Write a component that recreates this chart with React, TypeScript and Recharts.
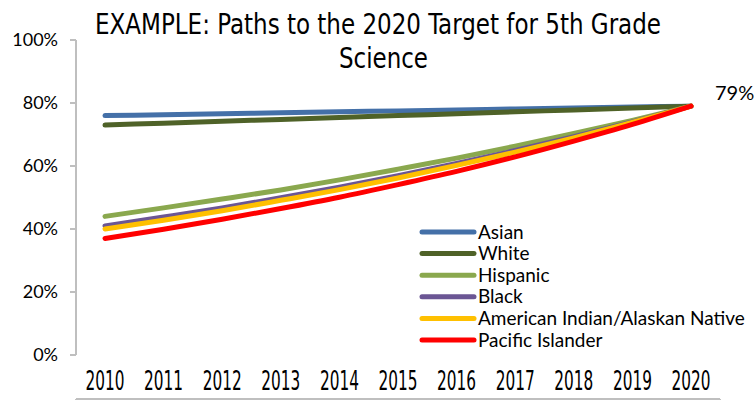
import React from 'react';
import { LineChart, Line, XAxis, YAxis, Legend, LabelList } from 'recharts';

const years = ['2010', '2011', '2012', '2013', '2014', '2015', '2016', '2017', '2018', '2019', '2020'];
const asian = [76, 76.3, 76.6, 76.9, 77.2, 77.5, 77.8, 78.1, 78.4, 78.7, 79];
const white = [73, 73.6, 74.2, 74.8, 75.4, 76, 76.6, 77.2, 77.8, 78.4, 79];
const hispanic = [44, 46.7, 49.5, 52.4, 55.6, 59.0, 62.5, 66.3, 70.3, 74.5, 79];
const black = [41, 43.8, 46.7, 49.9, 53.3, 56.9, 60.8, 64.9, 69.3, 74.0, 79];
const amIndian = [40, 42.8, 45.8, 49.1, 52.5, 56.2, 60.2, 64.4, 68.9, 73.8, 79];
const pacific = [37, 39.9, 43.1, 46.5, 50.1, 54.1, 58.3, 62.9, 67.9, 73.2, 79];
const yTicks = [0, 20, 40, 60, 80, 100];
const gridTicks = [-0.5, 0.5, 1.5, 2.5, 3.5, 4.5, 5.5, 6.5, 7.5, 8.5, 9.5, 10.5];

const series = [
  { key: 'asian', name: 'Asian', color: '#4470A8', values: asian },
  { key: 'white', name: 'White', color: '#4F6228', values: white },
  { key: 'hispanic', name: 'Hispanic', color: '#8AA84E', values: hispanic },
  { key: 'black', name: 'Black', color: '#6B5694', values: black },
  { key: 'amIndian', name: 'American Indian/Alaskan Native', color: '#FFC000', values: amIndian },
  { key: 'pacific', name: 'Pacific Islander', color: '#FF0000', values: pacific },
];

const data = years.map((y, i) => {
  const row: Record<string, any> = { year: y, idx: i };
  series.forEach((s) => { row[s.key] = s.values[i]; });
  return row;
});

const FONT = 'Lato, "Noto Sans", sans-serif';
const NARROW = '"Liberation Sans Narrow", "DejaVu Sans Condensed", "Liberation Sans", sans-serif';

const XTick = (props: any) => {
  const { x, y, payload } = props;
  return (
    <text x={x} y={y + 27} textAnchor="middle" fontFamily={NARROW} fontSize={27} fill="#000"
      textLength={39} lengthAdjust="spacingAndGlyphs">
      {payload.value}
    </text>
  );
};

const EmptyTick = () => <g />;

const renderLegend = () => (
  <svg width={340} height={130}>
    {series.map((s, i) => {
      const cy = 12 + i * 21.6;
      return (
        <g key={s.key}>
          <line x1={4} x2={56} y1={cy} y2={cy} stroke={s.color} strokeWidth={5} strokeLinecap="round" />
          <text x={60} y={cy + 6.5} fontFamily={FONT} fontSize={19} fill="#000">{s.name}</text>
        </g>
      );
    })}
  </svg>
);

const EndLabel = (props: any) => {
  const { x, y, index } = props;
  if (index !== years.length - 1) return null;
  return (
    <text x={x + 24} y={y - 6} fontFamily={FONT} fontSize={20} fill="#000">79%</text>
  );
};

export default function App() {
  return (
    <div style={{ position: 'absolute', left: 0, top: 0, width: 754, height: 400, background: '#fff' }}>
      <LineChart width={754} height={400} data={data} margin={{ top: 40, right: 34, bottom: 0, left: 0 }}>
        <XAxis xAxisId="g" type="number" dataKey="idx" domain={[-0.5, 10.5]} allowDataOverflow ticks={gridTicks}
          tick={<EmptyTick />} interval={0} tickSize={7} height={1} axisLine={{ stroke: '#BFBFBF', strokeWidth: 2 }}
          tickLine={{ stroke: '#BFBFBF', strokeWidth: 2 }} />
        <XAxis xAxisId="c" dataKey="year" padding={{ left: 29, right: 29 }} axisLine={false}
          tickLine={false} height={44} tick={<XTick />} interval={0} />
        <YAxis domain={[0, 100]} ticks={yTicks} width={76} tickFormatter={(v: number) => `${v}%`}
          axisLine={{ stroke: '#BFBFBF', strokeWidth: 2 }} tickLine={{ stroke: '#BFBFBF', strokeWidth: 2 }}
          tickSize={6} tickMargin={12} tick={{ fill: '#000', fontSize: 18, fontFamily: FONT }} />
        <Legend layout="vertical" align="center" verticalAlign="middle" content={renderLegend}
          wrapperStyle={{ position: 'absolute', left: 418, top: 220, width: 340, height: 130 }} />
        {series.map((s) => (
          <Line key={s.key} xAxisId="c" dataKey={s.key} name={s.name} stroke={s.color} strokeWidth={5}
            strokeLinecap="round" strokeLinejoin="round" dot={false} isAnimationActive={false}
            type="monotone">
            {s.key === 'pacific' ? <LabelList dataKey={s.key} content={<EndLabel />} /> : null}
          </Line>
        ))}
      </LineChart>
      <svg width={754} height={80} style={{ position: 'absolute', left: 0, top: 0, pointerEvents: 'none' }}>
        <text x={95} y={34} fontFamily={NARROW} fontSize={28} fill="#000" textLength={566}
          lengthAdjust="spacingAndGlyphs">EXAMPLE: Paths to the 2020 Target for 5th Grade</text>
        <text x={339} y={68} fontFamily={NARROW} fontSize={28} fill="#000" textLength={89}
          lengthAdjust="spacingAndGlyphs">Science</text>
      </svg>
    </div>
  );
}
